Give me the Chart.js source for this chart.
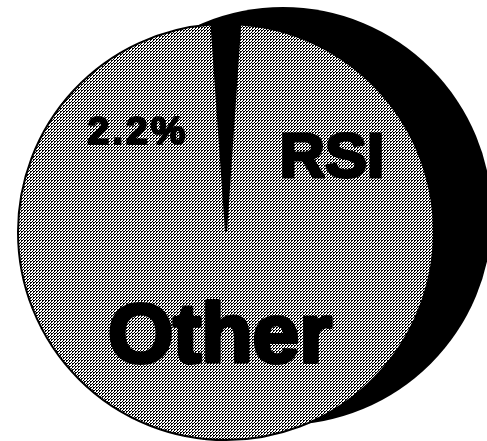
<!DOCTYPE html>
<html>
<head>
<meta charset="utf-8">
<script src="https://cdn.jsdelivr.net/npm/chart.js@4.4.1/dist/chart.umd.min.js"></script>
<style>
  body { margin: 0; background: #fff; }
  #wrap { width: 487px; height: 441px; position: relative; }
</style>
</head>
<body>
<div id="wrap"><canvas id="pieChart"></canvas></div>
<script>
// datos del grafico
var categorias = ['RSI', 'Other'];
var valores = [2.2, 97.8];
var etiquetas = ['2.2%', 'RSI', 'Other'];

// patron de puntos (gris tramado como el original)
function crearTrama() {
  var c = document.createElement('canvas');
  c.width = 3; c.height = 3;
  var g = c.getContext('2d');
  g.fillStyle = '#ffffff';
  g.fillRect(0, 0, 3, 3);
  g.fillStyle = '#000000';
  g.fillRect(0, 0, 2, 1);
  g.fillRect(0, 1, 1, 1);
  g.fillRect(2, 2, 1, 1);
  return g.createPattern(c, 'repeat');
}
var trama = crearTrama();

// sombra negra detras del pastel
var sombraPlugin = {
  id: 'sombra',
  beforeDatasetsDraw: function(chart) {
    var arc = chart.getDatasetMeta(0).data[0];
    var ctx = chart.ctx;
    ctx.save();
    ctx.fillStyle = '#000';
    ctx.beginPath();
    ctx.arc(arc.x + 57, arc.y - 16, arc.outerRadius + 1, 0, Math.PI * 2);
    ctx.fill();
    ctx.restore();
  }
};

// textos encima del pastel (con trazo para que se vean mas gruesos)
function texto(ctx, t, x, y) {
  ctx.strokeText(t, x, y);
  ctx.fillText(t, x, y);
}
var textosPlugin = {
  id: 'textos',
  afterDatasetsDraw: function(chart) {
    var arc = chart.getDatasetMeta(0).data[0];
    var cx = arc.x, cy = arc.y;
    var ctx = chart.ctx;
    ctx.save();
    ctx.fillStyle = '#000';
    ctx.strokeStyle = '#000';
    ctx.lineJoin = 'round';
    ctx.textAlign = 'center';
    ctx.textBaseline = 'alphabetic';

    ctx.lineWidth = 2;
    ctx.font = 'bold 39px "Liberation Sans", Arial, sans-serif';
    ctx.letterSpacing = '3px';
    texto(ctx, etiquetas[0], cx - 88, cy - 88);

    ctx.letterSpacing = '0px';
    ctx.lineWidth = 3;
    ctx.font = 'bold 63px "Liberation Sans", Arial, sans-serif';
    texto(ctx, etiquetas[1], cx + 106, cy - 55);

    ctx.lineWidth = 4;
    ctx.font = 'bold 84px "Liberation Sans", Arial, sans-serif';
    texto(ctx, etiquetas[2], cx - 6, cy + 130);
    ctx.restore();
  }
};

var pieCanvas = document.getElementById('pieChart').getContext('2d');
new Chart(pieCanvas, {
  type: 'pie',
  data: {
    labels: categorias,
    datasets: [{
      data: valores,
      backgroundColor: ['#000000', trama],
      borderColor: '#000000',
      borderWidth: 2
    }]
  },
  options: {
    responsive: true,
    maintainAspectRatio: false,
    animation: false,
    rotation: -4,
    layout: { padding: { left: 10, top: 23, right: 45, bottom: 0 } },
    plugins: {
      legend: { display: false },
      tooltip: { enabled: false }
    }
  },
  plugins: [sombraPlugin, textosPlugin]
});
</script>
</body>
</html>
